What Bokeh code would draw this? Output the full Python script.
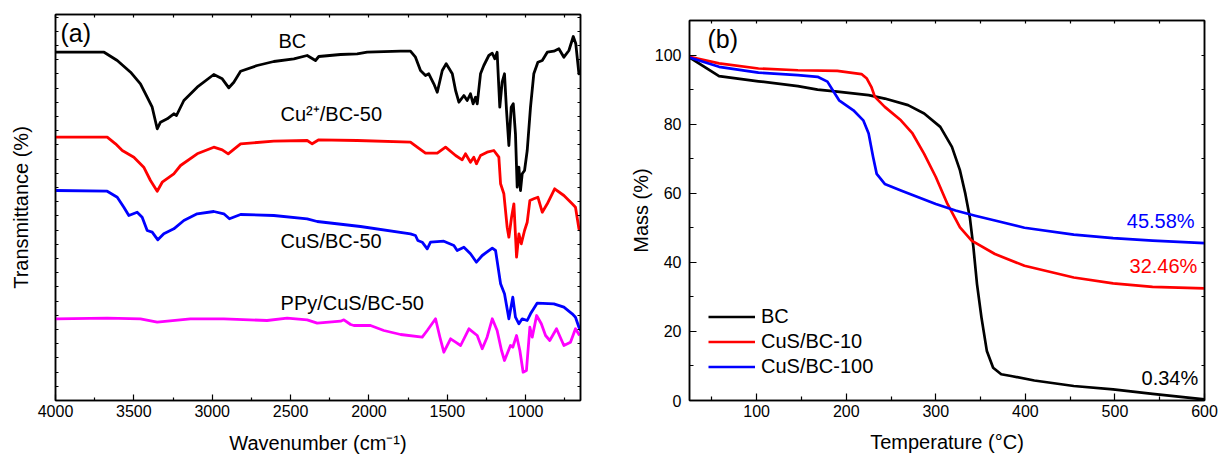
from bokeh.plotting import figure
from bokeh.models import (Range1d, FixedTicker, LinearAxis, Label, Legend, LegendItem,
                          CustomLabelingPolicy)
from bokeh.layouts import row
from bokeh.embed import file_html
from bokeh.resources import INLINE

FONT = "Liberation Sans"

# ---------------- (a) FTIR data: (wavenumber cm-1, transmittance a.u. with offsets)
ftir_bc = [(4000, 348.3), (3690, 348.3), (3606, 340), (3521, 328.3), (3458, 316.7), (3415, 303.3),
           (3383, 293.3), (3351, 271.7), (3330, 278.3), (3287, 281.7), (3245, 286.7), (3228, 285),
           (3181, 300), (3096, 313.3), (2990, 326), (2936, 321.7), (2894, 312.7), (2862, 318.3),
           (2819, 329.3), (2713, 335), (2607, 339), (2479, 341.7), (2394, 345), (2341, 340),
           (2320, 344), (2181, 346), (2075, 346.7), (2011, 348.3), (1798, 349.3), (1735, 349.3),
           (1703, 343.3), (1671, 330), (1639, 325), (1618, 326.7), (1586, 316.7), (1564, 308.3),
           (1532, 330), (1507, 336.7), (1468, 326.7), (1447, 310), (1426, 298.3), (1394, 305),
           (1373, 300), (1352, 306.7), (1335, 296.7), (1320, 303.3), (1309, 296.7), (1288, 326.7),
           (1267, 335), (1235, 345), (1213, 347.3), (1197, 341.7), (1182, 348.3), (1165, 293.3),
           (1150, 318.3), (1135, 326.7), (1122, 290), (1107, 255), (1092, 293.3), (1079, 296.7),
           (1065, 266.7), (1054, 213.3), (1043, 233.3), (1033, 210), (1022, 226.7), (1007, 230),
           (990, 250), (969, 293.3), (948, 326.7), (922, 338.3), (894, 340), (862, 348.3),
           (820, 349.3), (788, 351.7), (756, 343.3), (724, 350), (696, 364), (680, 356.7),
           (660, 326.7), (650, 330)]

ftir_cu = [(4000, 263.3), (3670, 263.3), (3617, 256.7), (3574, 250), (3500, 243.3), (3437, 233.3),
           (3394, 220), (3351, 209.3), (3319, 218.3), (3245, 226.7), (3202, 235), (3096, 246.7),
           (2990, 253.3), (2936, 250.7), (2898, 246.7), (2819, 256.7), (2607, 259.3), (2394, 260),
           (2362, 256.7), (2320, 260.7), (2075, 260), (1735, 258.3), (1692, 253.3), (1639, 247.3),
           (1564, 247.3), (1511, 253.3), (1447, 245), (1405, 240.7), (1384, 246.7), (1352, 238.3),
           (1331, 243.3), (1314, 236.7), (1288, 245), (1246, 248.3), (1203, 250), (1171, 243.3),
           (1160, 216.7), (1139, 206.7), (1118, 173.3), (1107, 163.3), (1090, 183.3), (1075, 196.7),
           (1058, 143.3), (1043, 166.7), (1028, 156.7), (1007, 170), (990, 178.3), (973, 200),
           (948, 201.7), (922, 203.3), (894, 188.3), (862, 196.7), (815, 211.7), (756, 205),
           (703, 196.7), (682, 193.3), (660, 171.7), (650, 170)]

ftir_cus = [(4000, 210), (3670, 209.3), (3606, 203.3), (3564, 193.3), (3532, 185), (3479, 188.3),
            (3447, 183.3), (3415, 170), (3383, 168.3), (3347, 160.7), (3309, 166.7), (3245, 171.7),
            (3181, 180), (3096, 186.7), (2990, 189), (2926, 186.7), (2890, 181.7), (2819, 186),
            (2607, 185), (2394, 181.7), (2330, 179), (2054, 174), (1735, 166.7), (1703, 165),
            (1688, 160), (1660, 158.3), (1628, 151.7), (1607, 158.3), (1522, 159.3), (1458, 155),
            (1437, 150), (1394, 153.3), (1352, 146.7), (1314, 138.3), (1277, 145), (1213, 152.3),
            (1192, 150), (1160, 116.7), (1135, 106.7), (1107, 81.7), (1082, 103.3), (1065, 83.3),
            (1043, 76.7), (1022, 81.7), (990, 80), (969, 86.7), (927, 97.3), (820, 96.7),
            (756, 93.3), (703, 86.7), (682, 83.3), (660, 73.3), (650, 70)]

ftir_ppy = [(4000, 81.7), (3670, 82.3), (3458, 81.7), (3351, 78.3), (3139, 81.7), (2926, 81.7),
            (2650, 80), (2522, 82.3), (2394, 80.7), (2330, 77.3), (2181, 79.3), (2160, 80.7),
            (2117, 76), (2096, 75), (1990, 75), (1905, 70), (1798, 66), (1660, 63.3), (1628, 70),
            (1575, 81.7), (1547, 63.3), (1522, 48.3), (1479, 61.7), (1447, 58.3), (1415, 55),
            (1362, 71.7), (1309, 65), (1277, 51.7), (1246, 63.3), (1213, 81.7), (1182, 70),
            (1154, 50), (1135, 40), (1114, 48.3), (1097, 55), (1082, 53.3), (1058, 65), (1037, 50),
            (1016, 28.3), (995, 30), (973, 73.3), (958, 63.3), (930, 85), (900, 76.7), (873, 65),
            (846, 60), (803, 71.7), (756, 55), (714, 58.3), (682, 71.7), (656, 65)]

ftir_names = ["BC", "Cu\u00b2\u207a/BC-50", "CuS/BC-50", "PPy/CuS/BC-50"]
ftir_colors = ["#000000", "#ff0000", "#0000ff", "#ff00ff"]
ftir_label_pos = [(2577, 360), (2564, 287), (2564, 160), (2564, 98)]

# ---------------- (b) TGA data: (temperature C, mass %)
tga_bc = [(25, 99.3), (58, 93.9), (102, 92.4), (146, 91.0), (168, 90.0), (190, 89.4), (225, 88.4),
          (243, 87.4), (269, 85.5), (287, 83.1), (305, 79.2), (318, 73.4), (327, 66.6), (333, 59.8),
          (338, 53.0), (342, 44.3), (346, 33.7), (351, 24.0), (357, 14.3), (364, 9.5), (373, 7.6),
          (384, 7.1), (410, 5.8), (454, 4.2), (498, 3.2), (542, 1.9), (600, 0.34)]
tga_cus10 = [(25, 99.5), (58, 97.6), (102, 96.1), (146, 95.6), (190, 95.4), (217, 94.5), (223, 93.2),
             (228, 90.8), (232, 87.9), (243, 85.0), (261, 81.1), (274, 77.3), (287, 71.4), (300, 64.7),
             (313, 56.9), (327, 50.1), (340, 46.3), (366, 42.4), (399, 39.0), (454, 35.6), (498, 33.9),
             (542, 32.9), (600, 32.46)]
tga_cus100 = [(25, 99.3), (58, 96.6), (102, 94.9), (146, 94.2), (168, 93.7), (179, 92.3), (186, 89.4),
              (192, 86.9), (208, 84.0), (219, 81.1), (225, 77.3), (230, 70.5), (234, 65.6), (243, 62.7),
              (261, 60.8), (300, 56.9), (322, 55.0), (344, 53.5), (366, 52.1), (399, 50.0), (454, 48.0),
              (498, 47.0), (542, 46.3), (600, 45.58)]
tga_names = ["BC", "CuS/BC-10", "CuS/BC-100"]
tga_colors = ["#000000", "#ff0000", "#0000ff"]
residues = ["0.34%", "32.46%", "45.58%"]
residue_pos = [(593, 6.4), (592, 38.8), (589, 51.9)]

wn_major = [4000, 3500, 3000, 2500, 2000, 1500, 1000]
wn_minor = [3750, 3250, 2750, 2250, 1750, 1250, 750]
t_major = [100, 200, 300, 400, 500, 600]
t_minor = [50, 150, 250, 350, 450, 550]
m_major = [0, 20, 40, 60, 80, 100]
m_minor = [10, 30, 50, 70, 90]

NO_LABELS = "for (const i of Array.from(indices)) { indices.unset(i) } return indices"


def style_axis(ax, major, minor, maj_in, min_in, show_labels=True):
    ax.ticker = FixedTicker(ticks=major, minor_ticks=minor)
    ax.major_tick_in = maj_in
    ax.major_tick_out = 0
    ax.minor_tick_in = min_in
    ax.minor_tick_out = 0
    ax.axis_line_width = 1.5
    ax.axis_line_color = "#000000"
    ax.major_tick_line_color = "#000000"
    ax.minor_tick_line_color = "#000000"
    ax.major_tick_line_width = 1.2
    ax.minor_tick_line_width = 1.2
    ax.major_label_text_font = FONT
    ax.major_label_text_color = "#000000"
    ax.axis_label_text_font = FONT
    ax.axis_label_text_font_style = "normal"
    ax.axis_label_text_font_size = "20px"
    ax.axis_label_text_color = "#000000"
    if show_labels:
        ax.major_label_text_font_size = "16px"
    else:
        ax.major_label_text_font_size = "0px"
        ax.major_label_standoff = 0
        ax.major_label_policy = CustomLabelingPolicy(code=NO_LABELS)


def bare_axis(p, place, major, minor, maj_in, min_in):
    ax = LinearAxis()
    style_axis(ax, major, minor, maj_in, min_in, show_labels=False)
    ax.axis_label = None
    p.add_layout(ax, place)
    return ax


# ---------------- panel (a)
p1 = figure(width=600, height=460, x_range=Range1d(4000, 650), y_range=Range1d(0, 386),
            output_backend="svg", toolbar_location=None, frame_align=False,
            min_border_left=55, min_border_right=20, min_border_top=14, min_border_bottom=60)
p1.xgrid.visible = False
p1.ygrid.visible = False
p1.outline_line_color = "#000000"
p1.outline_line_width = 1.5

y_ticks_a = [i * 14.2 for i in range(28)]
style_axis(p1.xaxis[0], wn_major, wn_minor, 6, 3)
p1.xaxis[0].major_label_standoff = 4
p1.xaxis[0].axis_label = "Wavenumber (cm\u207b\u00b9)"
p1.xaxis[0].axis_label_standoff = 12
style_axis(p1.yaxis[0], y_ticks_a, [], 3, 0, show_labels=False)
p1.yaxis[0].axis_label = "Transmittance (%)"
p1.yaxis[0].axis_label_standoff = 24
bare_axis(p1, "above", wn_major + wn_minor, [], 3, 0)
bare_axis(p1, "right", y_ticks_a, [], 3, 0)

for series, col in zip([ftir_bc, ftir_cu, ftir_cus, ftir_ppy], ftir_colors):
    xs = [a for a, b in series]
    ys = [b for a, b in series]
    p1.line(xs, ys, line_color=col, line_width=2.8, line_join="round")

for name, (lx, ly) in zip(ftir_names, ftir_label_pos):
    p1.add_layout(Label(x=lx, y=ly, text=name, text_font=FONT, text_font_size="20px",
                        text_color="#000000", text_baseline="middle", text_align="left"))
p1.add_layout(Label(x=3968, y=368, text="(a)", text_font=FONT, text_font_size="25px",
                    text_color="#000000", text_baseline="middle", text_align="left"))

# ---------------- panel (b)
p2 = figure(width=619, height=460, x_range=Range1d(25, 600), y_range=Range1d(0, 110),
            output_backend="svg", toolbar_location=None, frame_align=False,
            min_border_left=89, min_border_right=15, min_border_top=20, min_border_bottom=60)
p2.xgrid.visible = False
p2.ygrid.visible = False
p2.outline_line_color = "#000000"
p2.outline_line_width = 1.5

style_axis(p2.xaxis[0], t_major, t_minor, 7, 4)
p2.xaxis[0].major_label_standoff = 4
p2.xaxis[0].axis_label = "Temperature (\u00b0C)"
p2.xaxis[0].axis_label_standoff = 11
style_axis(p2.yaxis[0], m_major, m_minor, 7, 4)
p2.yaxis[0].major_label_standoff = 8
p2.yaxis[0].axis_label = "Mass (%)"
p2.yaxis[0].axis_label_standoff = 0
bare_axis(p2, "above", t_major + t_minor, [], 3, 0)
bare_axis(p2, "right", m_major + m_minor, [], 3, 0)

renderers = []
for series, col in zip([tga_bc, tga_cus10, tga_cus100], tga_colors):
    xs = [a for a, b in series]
    ys = [b for a, b in series]
    renderers.append(p2.line(xs, ys, line_color=col, line_width=2.7, line_join="round"))

legend = Legend(items=[LegendItem(label=n, renderers=[r]) for n, r in zip(tga_names, renderers)],
                location=(19, 21), glyph_width=47, glyph_height=25, label_height=25, spacing=0,
                padding=0, margin=0, label_standoff=6, label_text_font=FONT,
                label_text_font_size="20px", label_text_color="#000000",
                border_line_alpha=0, background_fill_alpha=0)
p2.add_layout(legend)

for txt, (lx, ly), col in zip(residues, residue_pos, tga_colors):
    p2.add_layout(Label(x=lx, y=ly, text=txt, text_font=FONT, text_font_size="20px",
                        text_color=col, text_baseline="middle", text_align="right"))
p2.add_layout(Label(x=45, y=104.6, text="(b)", text_font=FONT, text_font_size="25px",
                    text_color="#000000", text_baseline="middle", text_align="left"))

layout = row(p1, p2)
open("out.html", "w").write(file_html(layout, INLINE))
